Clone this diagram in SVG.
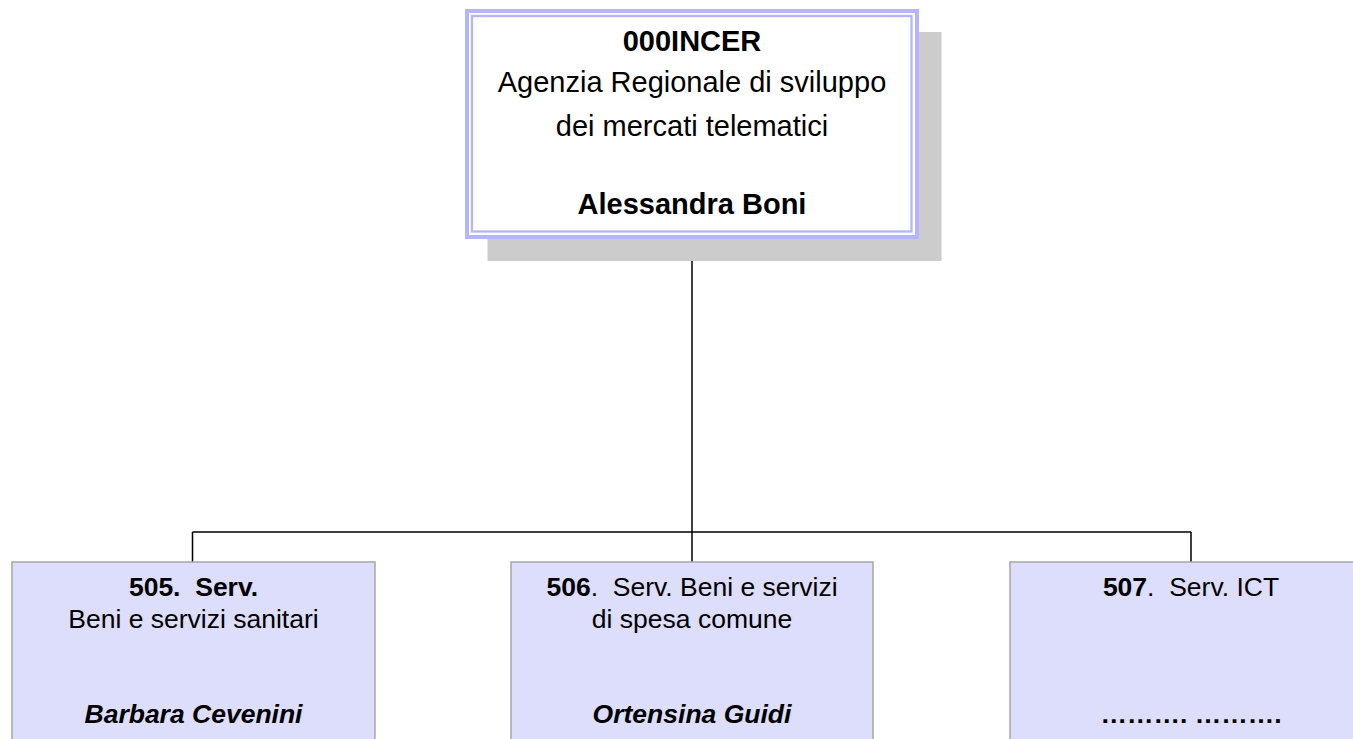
<svg xmlns="http://www.w3.org/2000/svg" width="1353" height="739" viewBox="0 0 1353 739">
<style>
text{font-family:"Liberation Sans",Arial,sans-serif;fill:#000;text-anchor:middle}
.t{font-size:29px}
.b{font-weight:bold}
.s{font-size:26.5px}
.bi{font-weight:bold;font-style:italic}
.box{fill:#ddddfc;stroke:#a6a6a6;stroke-width:1.5}
.conn{fill:none;stroke:#000;stroke-width:1.5}
</style>
<rect width="1353" height="739" fill="#fff"/>
<g id="connectors">
<path class="conn" d="M692 239V532M192.5 532H1191M192.5 532V562M692 532V562M1191 532V562"/>
</g>
<g id="node-000INCER">
<rect x="487.5" y="32" width="454" height="229" fill="#cccccc"/>
<rect x="467" y="11" width="450" height="226" fill="#fff" stroke="#b4b4ff" stroke-width="4"/>
<rect x="472" y="16" width="439.5" height="215.5" fill="none" stroke="#b4b4ff" stroke-width="2.3"/>
<text class="t b" x="692" y="51">000INCER</text>
<text class="t" x="692" y="92">Agenzia Regionale di sviluppo</text>
<text class="t" x="692" y="136">dei mercati telematici</text>
<text class="t b" x="692" y="214">Alessandra Boni</text>
</g>
<g id="node-505">
<rect class="box" x="12" y="562" width="363" height="190"/>
<text class="s b" x="193.5" y="596" xml:space="preserve">505.  Serv.</text>
<text class="s" x="193.5" y="628">Beni e servizi sanitari</text>
<text class="s bi" x="193.5" y="723">Barbara Cevenini</text>
</g>
<g id="node-506">
<rect class="box" x="511" y="562" width="362" height="190"/>
<text class="s" x="692" y="596" xml:space="preserve"><tspan class="b">506</tspan>.  Serv. Beni e servizi</text>
<text class="s" x="692" y="628">di spesa comune</text>
<text class="s bi" x="692" y="723">Ortensina Guidi</text>
</g>
<g id="node-507">
<rect class="box" x="1010" y="562" width="362" height="190"/>
<text class="s" x="1191" y="596" xml:space="preserve"><tspan class="b">507</tspan>.  Serv. ICT</text>
<text class="s b" x="1191" y="723">………. ……….</text>
</g>
</svg>
